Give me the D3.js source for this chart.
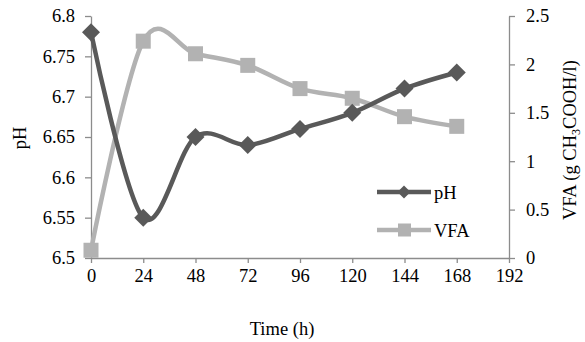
<!DOCTYPE html>
<html><head><meta charset="utf-8">
<script src="https://cdn.jsdelivr.net/npm/d3@7"></script>
<style>body{margin:0;background:#fff}</style>
</head><body><svg id="c" width="585" height="342"></svg>
<script>
const hours = [0, 24, 48, 72, 96, 120, 144, 168];
const pH = [6.78, 6.55, 6.65, 6.64, 6.66, 6.68, 6.71, 6.73];
const VFA = [0.08, 2.24, 2.11, 1.99, 1.75, 1.65, 1.46, 1.36];
const xTicks = [0, 24, 48, 72, 96, 120, 144, 168, 192];
const pHTicks = [6.5, 6.55, 6.6, 6.65, 6.7, 6.75, 6.8];
const vfaTicks = [0, 0.5, 1, 1.5, 2, 2.5];

const svg = d3.select("#c");
const font = "'Liberation Serif','Times New Roman',serif";
const axisCol = "#8c8c8c";
const pHCol = "#595959", vfaCol = "#b2b2b2";

const x = d3.scaleLinear().domain([0, 192]).range([91, 509]);
const yL = d3.scaleLinear().domain([6.5, 6.8]).range([258, 16]);
const yR = d3.scaleLinear().domain([0, 2.5]).range([258, 16]);

function style(g) {
  g.selectAll("path.domain").attr("stroke", axisCol).attr("stroke-width", 1.3);
  g.selectAll(".tick line").attr("stroke", axisCol).attr("stroke-width", 1.3);
  g.selectAll("text").attr("font-family", font).attr("font-size", 18.5).attr("fill", "#000");
}
svg.append("g").attr("transform", "translate(0,258)")
  .call(d3.axisBottom(x).tickValues(xTicks).tickSize(5).tickSizeOuter(0).tickPadding(6).tickFormat(d3.format("d")))
  .call(style);
svg.append("g").attr("transform", "translate(91,0)")
  .call(d3.axisLeft(yL).tickValues(pHTicks).tickSize(6).tickSizeOuter(0).tickPadding(10).tickFormat(d => String(+d.toFixed(2))))
  .call(style);
svg.append("g").attr("transform", "translate(509,0)")
  .call(d3.axisRight(yR).tickValues(vfaTicks).tickSize(6).tickSizeOuter(0).tickPadding(11).tickFormat(d => String(d)))
  .call(style);

const curve = d3.curveCardinal.tension(0);
const lineV = d3.line().x((d, i) => x(hours[i])).y(d => yR(d)).curve(curve);
const lineP = d3.line().x((d, i) => x(hours[i])).y(d => yL(d)).curve(curve);

svg.append("path").attr("d", lineV(VFA)).attr("fill", "none").attr("stroke", vfaCol).attr("stroke-width", 4.5);
svg.selectAll("rect.v").data(VFA).join("rect").attr("class", "v")
  .attr("x", (d, i) => x(hours[i]) - 7.5).attr("y", d => yR(d) - 7.5)
  .attr("width", 15).attr("height", 15).attr("fill", vfaCol);

svg.append("path").attr("d", lineP(pH)).attr("fill", "none").attr("stroke", pHCol).attr("stroke-width", 4.5);
const diamond = s => `M0,${-s}L${s},0L0,${s}L${-s},0Z`;
svg.selectAll("path.p").data(pH).join("path").attr("class", "p")
  .attr("transform", (d, i) => `translate(${x(hours[i])},${yL(d)})`)
  .attr("d", diamond(9)).attr("fill", pHCol);

// legend
const lg = svg.append("g");
lg.append("line").attr("x1", 377).attr("x2", 431).attr("y1", 192).attr("y2", 192).attr("stroke", pHCol).attr("stroke-width", 4.5);
lg.append("path").attr("transform", "translate(404,192)").attr("d", diamond(6.5)).attr("fill", pHCol);
lg.append("text").attr("x", 434).attr("y", 198.5).text("pH").attr("font-family", font).attr("font-size", 18.5);
lg.append("line").attr("x1", 377).attr("x2", 431).attr("y1", 230).attr("y2", 230).attr("stroke", vfaCol).attr("stroke-width", 4.5);
lg.append("rect").attr("x", 398).attr("y", 223.5).attr("width", 13).attr("height", 13).attr("fill", vfaCol);
lg.append("text").attr("x", 434).attr("y", 236.5).text("VFA").attr("font-family", font).attr("font-size", 18.5);

// axis titles
svg.append("text").attr("x", 282).attr("y", 335).attr("text-anchor", "middle")
  .attr("font-family", font).attr("font-size", 18.5).text("Time (h)");
svg.append("text").attr("transform", "translate(26,138) rotate(-90)").attr("text-anchor", "middle")
  .attr("font-family", font).attr("font-size", 18.5).text("pH");
const vt = svg.append("text").attr("transform", "translate(576,140) rotate(-90)").attr("text-anchor", "middle")
  .attr("font-family", font).attr("font-size", 18.5);
vt.append("tspan").text("VFA (g CH");
vt.append("tspan").attr("font-size", 12).attr("dy", 4).text("3");
vt.append("tspan").attr("dy", -4).text("COOH/l)");
</script></body></html>
